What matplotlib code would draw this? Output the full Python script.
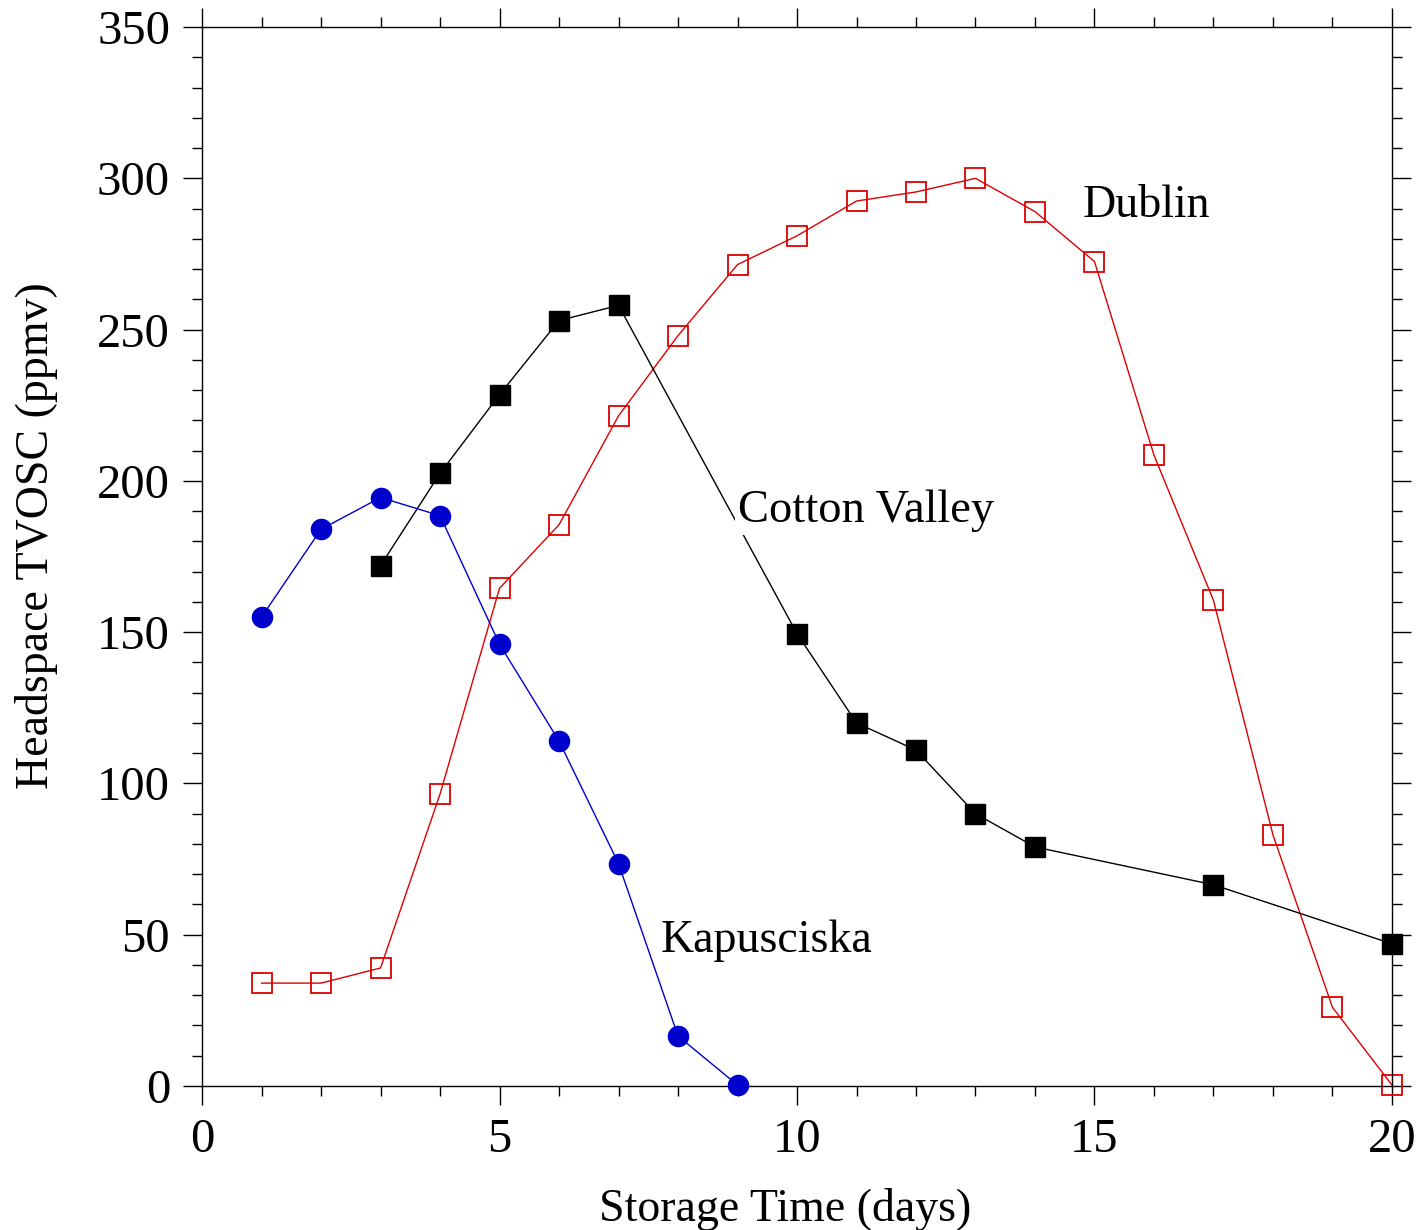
import matplotlib.pyplot as plt
from matplotlib.ticker import MultipleLocator

plt.rcParams['font.family'] = ['Liberation Serif', 'DejaVu Serif']

# data
kap_x = [1, 2, 3, 4, 5, 6, 7, 8, 9]
kap_y = [155, 184, 194.5, 188.5, 146, 114, 73.5, 16.5, 0.3]

cv_x = [3, 4, 5, 6, 7, 10, 11, 12, 13, 14, 17, 20]
cv_y = [172, 202.5, 228.5, 253, 258, 149.5, 120, 111, 90, 79, 66.5, 47]

dub_x = list(range(1, 21))
dub_y = [34, 34, 39, 96.5, 164.5, 185.5, 221.5, 248, 271.5, 281, 292.5, 295.5,
         300, 289, 272.5, 208.5, 160.5, 83, 26, 0.3]

fig = plt.figure(figsize=(14.24, 12.30), dpi=100)
ax = fig.add_axes([0.1419, 0.1171, 0.9775 - 0.1419, 0.978 - 0.1171])

ax.plot(dub_x, dub_y, color='#dd0000', lw=1.0, marker='s', ms=14,
        mfc='none', mec='#dd0000', mew=1.3, zorder=2, clip_on=False)
ax.plot(cv_x, cv_y, color='black', lw=1.0, marker='s', ms=15,
        mfc='black', mec='black', zorder=3, clip_on=False)
ax.plot(kap_x, kap_y, color='#0000cc', lw=1.0, marker='o', ms=14.5,
        mfc='#0000cc', mec='#0000cc', zorder=4, clip_on=False)

ax.text(14.8, 291, 'Dublin', fontsize=33, va='center', ha='left')
ax.text(9.0, 190, 'Cotton Valley', fontsize=33.5, va='center', ha='left', zorder=5,
        bbox=dict(facecolor='white', edgecolor='none', pad=2))
ax.text(7.7, 48, 'Kapusciska', fontsize=33, va='center', ha='left')

ax.set_xlim(0, 20)
ax.set_ylim(0, 350)
ax.xaxis.set_major_locator(MultipleLocator(5))
ax.xaxis.set_minor_locator(MultipleLocator(1))
ax.yaxis.set_major_locator(MultipleLocator(50))
ax.yaxis.set_minor_locator(MultipleLocator(10))

ax.tick_params(which='both', direction='out', top=True, right=True,
               labelsize=35, width=1)
ax.tick_params(which='major', length=14, pad=9)
ax.tick_params(which='minor', length=7)
for s in ax.spines.values():
    s.set_linewidth(1)

ax.set_xlabel('Storage Time (days)', fontsize=33, labelpad=19, x=0.49)
ax.set_ylabel('Headspace TVOSC (ppmv)', fontsize=33, labelpad=28, y=0.52)

fig.savefig('out.png', dpi=100)
